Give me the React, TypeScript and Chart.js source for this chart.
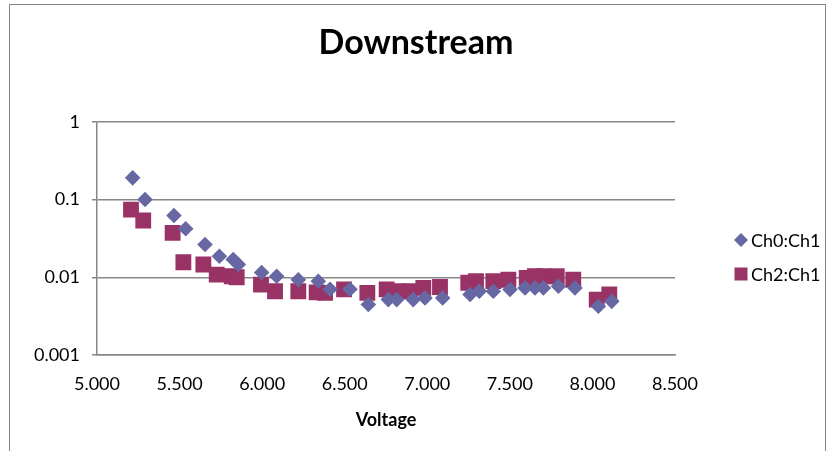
import React, { useEffect, useRef } from "react";
import { Chart, registerables } from "chart.js";

Chart.register(...registerables);

const chartTitle = "Downstream";
const xAxisTitle = "Voltage";
const seriesNames = ["Ch0:Ch1", "Ch2:Ch1"];

const ch0Voltage = [5.216, 5.291, 5.466, 5.537, 5.654, 5.741, 5.825, 5.856, 5.997, 6.088, 6.219, 6.34, 6.411, 6.532, 6.643, 6.764, 6.815, 6.915, 6.986, 7.093, 7.259, 7.315, 7.4, 7.501, 7.592, 7.652, 7.703, 7.794, 7.894, 8.036, 8.117];
const ch0Ratio = [0.19, 0.1, 0.0622, 0.042, 0.0264, 0.0186, 0.0169, 0.0146, 0.0115, 0.0103, 0.0093, 0.0089, 0.007, 0.007, 0.00446, 0.00516, 0.00516, 0.00516, 0.00543, 0.00543, 0.00599, 0.0066, 0.0066, 0.00695, 0.0073, 0.0073, 0.0073, 0.00766, 0.0073, 0.00423, 0.0049];

const ch2Voltage = [5.206, 5.28, 5.458, 5.523, 5.644, 5.725, 5.816, 5.846, 5.993, 6.078, 6.219, 6.33, 6.381, 6.496, 6.637, 6.754, 6.815, 6.895, 6.976, 7.077, 7.248, 7.295, 7.4, 7.491, 7.602, 7.652, 7.703, 7.784, 7.884, 8.026, 8.102];
const ch2Ratio = [0.0743, 0.0537, 0.0373, 0.0156, 0.0146, 0.0108, 0.0103, 0.01, 0.00805, 0.0066, 0.0066, 0.0064, 0.0063, 0.007, 0.0063, 0.007, 0.0066, 0.0066, 0.0073, 0.0075, 0.0085, 0.0089, 0.0089, 0.0093, 0.0098, 0.0103, 0.0103, 0.0103, 0.0093, 0.00516, 0.006];

const yTickValues = [0.001, 0.01, 0.1, 1];
const yTickLabels = ["0.001", "0.01", "0.1", "1"];
const xMin = 5.0;
const xMax = 8.5;
const xStep = 0.5;

const FONT = "Lato, 'Open Sans', 'DejaVu Sans', sans-serif";
const GRID = "#878787";
const COLOR0 = "#6767A3";
const COLOR2 = "#993366";

const legendPlugin = {
  id: "sideLegend",
  afterDraw(chart: any) {
    const ctx = chart.ctx;
    const area = chart.chartArea;
    const x = area.right + 66;
    const y0 = 240;
    const gap = 34;
    ctx.save();
    ctx.font = `18px ${FONT}`;
    ctx.textBaseline = "middle";
    ctx.textAlign = "left";
    chart.data.datasets.forEach((ds: any, i: number) => {
      const y = y0 + i * gap;
      ctx.fillStyle = ds.backgroundColor;
      ctx.beginPath();
      if (ds.pointStyle === "rectRot") {
        const r = 7;
        ctx.moveTo(x, y - r);
        ctx.lineTo(x + r, y);
        ctx.lineTo(x, y + r);
        ctx.lineTo(x - r, y);
        ctx.closePath();
      } else {
        const s = 6.5;
        ctx.rect(x - s, y - s, 2 * s, 2 * s);
      }
      ctx.fill();
      ctx.fillStyle = "#000";
      ctx.fillText(ds.label, x + 10, y + 1);
    });
    ctx.restore();
  },
};

export default function App() {
  const ref = useRef<HTMLCanvasElement | null>(null);

  useEffect(() => {
    if (!ref.current) return;
    const chart = new Chart(ref.current, {
      type: "scatter",
      data: {
        datasets: [
          {
            label: seriesNames[0],
            data: ch0Voltage.map((v, i) => ({ x: v, y: ch0Ratio[i] })),
            backgroundColor: COLOR0,
            borderColor: COLOR0,
            borderWidth: 0,
            pointStyle: "rectRot",
            pointRadius: 7.8,
          },
          {
            label: seriesNames[1],
            data: ch2Voltage.map((v, i) => ({ x: v, y: ch2Ratio[i] })),
            backgroundColor: COLOR2,
            borderColor: COLOR2,
            borderWidth: 0,
            pointStyle: "rect",
            pointRadius: 11.2,
          },
        ],
      },
      options: {
        responsive: true,
        maintainAspectRatio: false,
        animation: false,
        events: [],
        layout: { padding: { left: 0, right: 0, top: 0, bottom: 0 } },
        plugins: {
          legend: { display: false },
          tooltip: { enabled: false },
          title: {
            display: true,
            text: chartTitle,
            color: "#000",
            font: { family: FONT, size: 34, weight: "bold", lineHeight: 1.2 },
            padding: { top: 23, bottom: 58 },
          },
        },
        scales: {
          x: {
            type: "linear",
            min: xMin,
            max: xMax,
            grid: { display: false, drawTicks: false },
            border: { display: true, color: GRID, width: 1.5 },
            ticks: {
              stepSize: xStep,
              padding: 18,
              color: "#000",
              font: { family: FONT, size: 18 },
              callback: (v: any) => Number(v).toFixed(3),
            },
            title: {
              display: true,
              text: xAxisTitle,
              color: "#000",
              font: { family: FONT, size: 18, weight: "bold" },
              padding: { top: 0, bottom: 20 },
            },
            afterFit: (s: any) => {
              s.height = 96;
            },
          },
          y: {
            type: "logarithmic",
            min: 0.001,
            max: 1,
            grid: { color: GRID, lineWidth: 1.5, tickLength: 5, drawTicks: true },
            border: { display: true, color: GRID, width: 1.5 },
            ticks: {
              padding: 12,
              color: "#000",
              font: { family: FONT, size: 18 },
              callback: (v: any) => {
                const idx = yTickValues.findIndex((t) => Math.abs(t - Number(v)) < t * 1e-6);
                return idx >= 0 ? yTickLabels[idx] : "";
              },
            },
            afterBuildTicks: (s: any) => {
              s.ticks = yTickValues.map((v) => ({ value: v }));
            },
            afterFit: (s: any) => {
              s.width = 97;
            },
          },
          legendSpace: {
            type: "linear",
            position: "right",
            display: true,
            grid: { display: false, drawTicks: false },
            border: { display: false },
            ticks: { display: false },
            afterFit: (s: any) => {
              s.width = 157;
            },
          },
        },
      },
      plugins: [legendPlugin],
    });
    return () => chart.destroy();
  }, []);

  return (
    <div style={{ position: "fixed", left: 0, top: 0, width: 832, height: 451, background: "#fff", overflow: "hidden" }}>
      <div
        style={{
          position: "absolute",
          left: 9,
          top: 4,
          width: 817,
          height: 470,
          border: "1px solid #868686",
          boxSizing: "border-box",
          pointerEvents: "none",
        }}
      />
      <canvas ref={ref} style={{ position: "absolute", left: 0, top: 0, width: 832, height: 451 }} />
    </div>
  );
}
